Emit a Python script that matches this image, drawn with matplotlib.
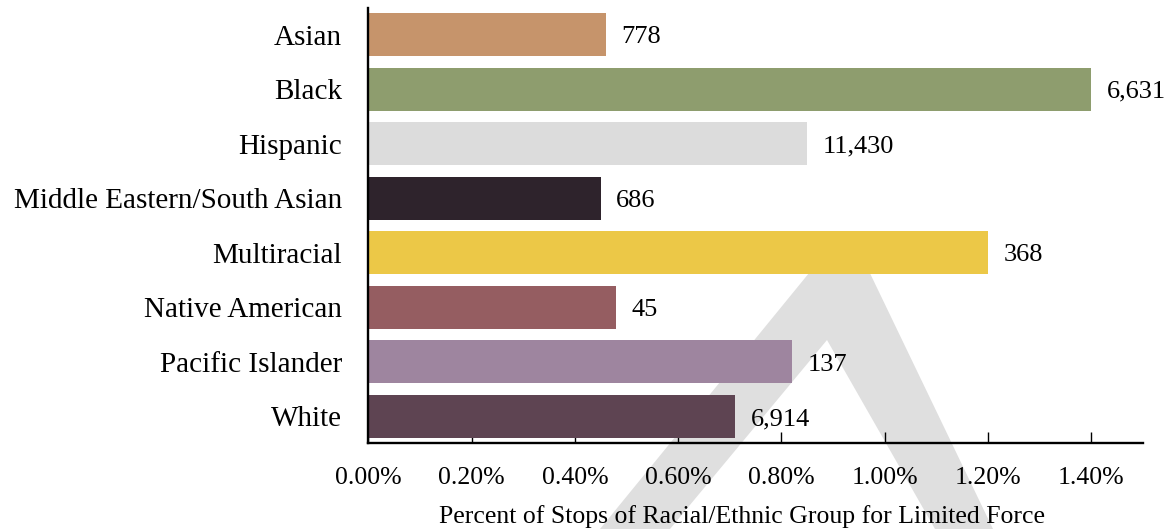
import matplotlib.pyplot as plt
from matplotlib.patches import Polygon
from matplotlib.ticker import FuncFormatter

## bar data
groups = ['Asian', 'Black', 'Hispanic', 'Middle Eastern/South Asian',
          'Multiracial', 'Native American', 'Pacific Islander', 'White']
pct = [0.46, 1.40, 0.85, 0.45, 1.20, 0.48, 0.82, 0.71]
counts = ['778', '6,631', '11,430', '686', '368', '45', '137', '6,914']
colors = ['#C6946B', '#8E9D6E', '#DCDCDC', '#2E232C',
          '#ECC847', '#955D61', '#9E859F', '#5E4452']

plt.rcParams['font.family'] = ['Liberation Serif', 'DejaVu Serif']

W, H = 1172, 529
fig = plt.figure(figsize=(W / 100, H / 100), dpi=100)


def px(x, y):
    return (x / W, 1 - y / H)


## light grey chevron in the background
mark = [(600, 529), (836, 240), (854, 240), (993, 529),
        (935, 529), (827, 340), (670, 529)]
fig.patches.append(Polygon([px(x, y) for x, y in mark], closed=True,
                           transform=fig.transFigure, facecolor='#DFDFDF',
                           edgecolor='none', zorder=-1))

ax = fig.add_axes([368.3 / W, 1 - 443 / H, (1143 - 368.3) / W, (443 - 8) / H])
ax.set_facecolor('none')

ypos = list(range(len(groups)))
ax.barh(ypos, pct, height=0.79, color=colors, zorder=2)
for y, v, c in zip(ypos, pct, counts):
    ax.text(v + 0.03, y + 0.05, c, va='center', ha='left', fontsize=19)

ax.set_xlim(0, 1.5)
ax.set_ylim(7.49, -0.49)
ax.set_yticks(ypos)
ax.set_yticklabels(groups, fontsize=21)
ax.set_xticks([0, 0.2, 0.4, 0.6, 0.8, 1.0, 1.2, 1.4])
ax.xaxis.set_major_formatter(FuncFormatter(lambda v, p: '%.2f%%' % v))
ax.tick_params(axis='x', direction='in', length=8, width=1, pad=17, labelsize=18.5)
ax.tick_params(axis='y', length=0, pad=19)

for s in ['top', 'right']:
    ax.spines[s].set_visible(False)
for s in ['left', 'bottom']:
    ax.spines[s].set_linewidth(1.7)

ax.set_xlabel('Percent of Stops of Racial/Ethnic Group for Limited Force',
              fontsize=18.5)
ax.xaxis.set_label_coords(0.482, -0.1425)

fig.savefig('out.png', dpi=100)
